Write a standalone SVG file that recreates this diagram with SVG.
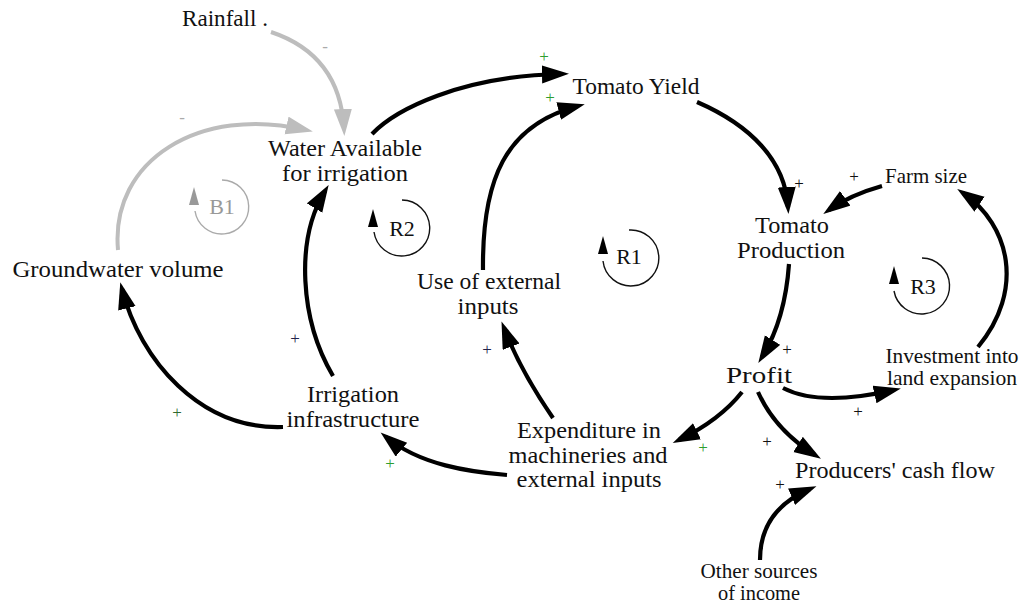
<svg xmlns="http://www.w3.org/2000/svg" width="1024" height="605" viewBox="0 0 1024 605">
<style>
.lbl{font-family:"Liberation Serif","Times New Roman",serif;font-size:23px;fill:#111;text-anchor:middle}
.sm{font-size:21px}
.xs{font-size:20px}
.pol{font-family:"Liberation Serif","Times New Roman",serif;font-size:17px;text-anchor:middle}
.blk{fill:#111}
.grn{fill:#2e9e2e}
.nav{fill:#22224a}
.gry{fill:#aaa}
.c{fill:none;stroke:#000;stroke-width:4.2}
.cg{fill:none;stroke:#bdbdbd;stroke-width:4}
.loop{fill:none;stroke:#111;stroke-width:1.4}
.loopg{fill:none;stroke:#aaa;stroke-width:1.4}
.ll{font-family:"Liberation Serif","Times New Roman",serif;font-size:22px;text-anchor:middle;fill:#111}
</style>
<defs>
<marker id="ah" markerUnits="userSpaceOnUse" markerWidth="30" markerHeight="20" refX="20" refY="9" orient="auto">
<path d="M0,0 L27,9 L0,18 z" fill="#000"/>
</marker>
<marker id="ahg" markerUnits="userSpaceOnUse" markerWidth="30" markerHeight="20" refX="20" refY="9" orient="auto">
<path d="M0,0 L27,9 L0,18 z" fill="#bdbdbd"/>
</marker>
</defs>
<rect width="1024" height="605" fill="#fff"/>

<g id="connectors">
<path class="cg" marker-end="url(#ahg)" d="M271,32 Q340,55 344,129"/>
<path class="cg" marker-end="url(#ahg)" d="M118,250 C110,160 200,105 306,130"/>
<path class="c" marker-end="url(#ah)" d="M372,134 C395,110 460,76 562,74"/>
<path class="c" marker-end="url(#ah)" d="M483,270 C482,180 505,125 578,106"/>
<path class="c" marker-end="url(#ah)" d="M697,102 C750,125 785,160 788,207"/>
<path class="c" marker-end="url(#ah)" d="M882,186 Q850,195 829,210"/>
<path class="c" marker-end="url(#ah)" d="M789,264 Q785,320 762,357"/>
<path class="c" marker-end="url(#ah)" d="M978,347 C1025,290 1010,225 963,193"/>
<path class="c" marker-end="url(#ah)" d="M783,388 C810,402 850,400 894,390"/>
<path class="c" marker-end="url(#ah)" d="M742,392 Q720,420 679,440"/>
<path class="c" marker-end="url(#ah)" d="M758,392 Q775,430 815,455"/>
<path class="c" marker-end="url(#ah)" d="M760,560 Q760,510 810,489"/>
<path class="c" marker-end="url(#ah)" d="M553,418 Q520,370 504,328"/>
<path class="c" marker-end="url(#ah)" d="M507,475 C470,472 420,465 386,437"/>
<path class="c" marker-end="url(#ah)" d="M333,376 C300,320 295,240 325,191"/>
<path class="c" marker-end="url(#ah)" d="M283,427 C200,430 140,360 122,289"/>

<text class="pol gry" x="325" y="52">-</text>
<text class="pol gry" x="182" y="123">-</text>
<text class="pol grn" x="544" y="62">+</text>
<text class="pol grn" x="550" y="103">+</text>
<text class="pol blk" x="799" y="189">+</text>
<text class="pol blk" x="854" y="182">+</text>
<text class="pol blk" x="787" y="355">+</text>
<text class="pol blk" x="858" y="417">+</text>
<text class="pol grn" x="703" y="453">+</text>
<text class="pol blk" x="767" y="447">+</text>
<text class="pol blk" x="780" y="490">+</text>
<text class="pol nav" x="487" y="355">+</text>
<text class="pol grn" x="390" y="469">+</text>
<text class="pol nav" x="295" y="344">+</text>
<text class="pol" x="177" y="418" fill="#2f6a2f">+</text>
</g>

<g id="loop-B1">
<path class="loopg" d="M195,211 A27,27 0 1 0 222,180"/>
<path d="M194,187 L189,205 L199,205 z" fill="#999"/>
<text class="ll" x="222" y="214" style="fill:#999">B1</text>
</g>
<g id="loop-R2">
<path class="loop" d="M374,232 A28,28 0 1 0 402,200"/>
<path d="M373,209 L368,227 L378,227 z" fill="#000"/>
<text class="ll" x="402" y="236">R2</text>
</g>
<g id="loop-R1">
<path class="loop" d="M603,261 A28,28 0 1 0 629,230"/>
<path d="M603,236 L598,254 L608,254 z" fill="#000"/>
<text class="ll" x="629" y="264">R1</text>
</g>
<g id="loop-R3">
<path class="loop" d="M894,291 A28,28 0 1 0 922,258"/>
<path d="M894,266 L889,284 L899,284 z" fill="#000"/>
<text class="ll" x="923" y="294">R3</text>
</g>

<g id="node-rainfall"><text class="lbl" x="225" y="26" textLength="86" lengthAdjust="spacingAndGlyphs">Rainfall .</text></g>
<g id="node-water"><text class="lbl" x="345" y="156" textLength="154" lengthAdjust="spacingAndGlyphs">Water Available</text><text class="lbl" x="345" y="181" textLength="126" lengthAdjust="spacingAndGlyphs">for irrigation</text></g>
<g id="node-yield"><text class="lbl" x="636" y="94" textLength="127" lengthAdjust="spacingAndGlyphs">Tomato Yield</text></g>
<g id="node-production"><text class="lbl" x="792" y="233" textLength="74" lengthAdjust="spacingAndGlyphs">Tomato</text><text class="lbl" x="791" y="258" textLength="108" lengthAdjust="spacingAndGlyphs">Production</text></g>
<g id="node-farmsize"><text class="lbl sm" x="926" y="183" textLength="82" lengthAdjust="spacingAndGlyphs">Farm size</text></g>
<g id="node-groundwater"><text class="lbl" x="118" y="277" textLength="211" lengthAdjust="spacingAndGlyphs">Groundwater volume</text></g>
<g id="node-external"><text class="lbl" x="489" y="289" textLength="144" lengthAdjust="spacingAndGlyphs">Use of external</text><text class="lbl" x="488" y="314" textLength="61" lengthAdjust="spacingAndGlyphs">inputs</text></g>
<g id="node-irrigation"><text class="lbl" x="353" y="402" textLength="92" lengthAdjust="spacingAndGlyphs">Irrigation</text><text class="lbl" x="353" y="427" textLength="133" lengthAdjust="spacingAndGlyphs">infrastructure</text></g>
<g id="node-profit"><text class="lbl" x="759" y="383" textLength="66" lengthAdjust="spacingAndGlyphs">Profit</text></g>
<g id="node-investment"><text class="lbl sm" x="952" y="363" textLength="133" lengthAdjust="spacingAndGlyphs">Investment into</text><text class="lbl sm" x="952" y="385" textLength="130" lengthAdjust="spacingAndGlyphs">land expansion</text></g>
<g id="node-expenditure"><text class="lbl" x="589" y="438" textLength="144" lengthAdjust="spacingAndGlyphs">Expenditure in</text><text class="lbl" x="588" y="463" textLength="159" lengthAdjust="spacingAndGlyphs">machineries and</text><text class="lbl" x="589" y="487" textLength="145" lengthAdjust="spacingAndGlyphs">external inputs</text></g>
<g id="node-cashflow"><text class="lbl" x="895" y="478" textLength="200" lengthAdjust="spacingAndGlyphs">Producers' cash flow</text></g>
<g id="node-other"><text class="lbl xs" x="759" y="578" textLength="117" lengthAdjust="spacingAndGlyphs">Other sources</text><text class="lbl xs" x="759" y="600" textLength="82" lengthAdjust="spacingAndGlyphs">of income</text></g>
</svg>
